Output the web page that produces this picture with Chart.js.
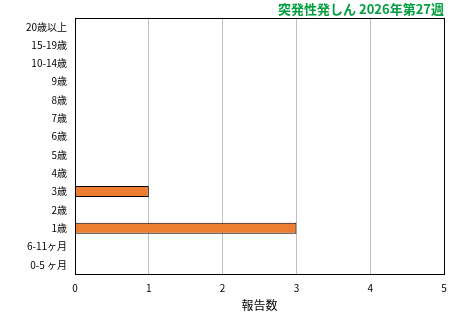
<!DOCTYPE html>
<html lang="ja">
<head>
<meta charset="UTF-8">
<title>突発性発しん</title>
<script src="https://cdn.jsdelivr.net/npm/chart.js"></script>
<style>
  html, body { margin: 0; padding: 0; background: #fff; }
  #wrap { width: 460px; height: 320px; position: relative; }
</style>
</head>
<body>
<div id="wrap"><canvas id="chart"></canvas></div>
<script>
    const categories = ['20歳以上', '15-19歳', '10-14歳', '9歳', '8歳', '7歳', '6歳', '5歳', '4歳', '3歳', '2歳', '1歳', '6-11ヶ月', '0-5 ヶ月'];
    const reports = [0, 0, 0, 0, 0, 0, 0, 0, 0, 1, 0, 3, 0, 0];
    const xTicks = [0, 1, 2, 3, 4, 5];
    const titleText = '突発性発しん 2026年第27週';
    const axisTitle = '報告数';

    const font = "'Noto Sans CJK JP', 'DejaVu Sans', sans-serif";

    // box around the plot area
    const frame = {
        id: 'frame',
        afterDatasetsDraw(chart) {
            const { ctx, chartArea: a } = chart;
            ctx.save();
            ctx.strokeStyle = '#000';
            ctx.lineWidth = 1;
            ctx.strokeRect(Math.round(a.left) + 0.5, Math.round(a.top) + 0.5, Math.round(a.right - a.left), Math.round(a.bottom - a.top));
            ctx.restore();
        }
    };

    new Chart(document.getElementById('chart').getContext('2d'), {
        type: 'bar',
        data: {
            labels: categories,
            datasets: [{
                label: axisTitle,
                data: reports,
                backgroundColor: '#ED7D31',
                borderColor: '#000',
                borderWidth: 1,
                barPercentage: 0.6,
                categoryPercentage: 1
            }]
        },
        options: {
            indexAxis: 'y',
            responsive: true,
            maintainAspectRatio: false,
            animation: false,
            layout: { padding: { left: 0, right: 16, top: 0, bottom: 0 } },
            plugins: {
                legend: { display: false },
                tooltip: { enabled: false },
                title: {
                    display: true,
                    text: titleText,
                    align: 'end',
                    color: '#00A040',
                    font: { family: font, size: 13, weight: 'bold' },
                    padding: { top: 1, bottom: 1 }
                }
            },
            scales: {
                x: {
                    min: 0,
                    max: 5,
                    afterBuildTicks: axis => { axis.ticks = xTicks.map(v => ({ value: v })); },
                    grid: { color: '#C0C0C0', drawTicks: false },
                    border: { display: false },
                    ticks: { color: '#000', padding: 8, font: { family: font, size: 10 } },
                    title: { display: true, text: axisTitle, color: '#000', font: { family: font, size: 12 }, padding: { top: 4, bottom: 7 } },
                    afterFit: axis => { axis.height = 46; }
                },
                y: {
                    grid: { display: false, drawTicks: false },
                    border: { display: false },
                    ticks: { color: '#000', padding: 8, font: { family: font, size: 10 } },
                    afterFit: axis => { axis.width = 75; }
                }
            }
        },
        plugins: [frame]
    });
</script>
</body>
</html>
